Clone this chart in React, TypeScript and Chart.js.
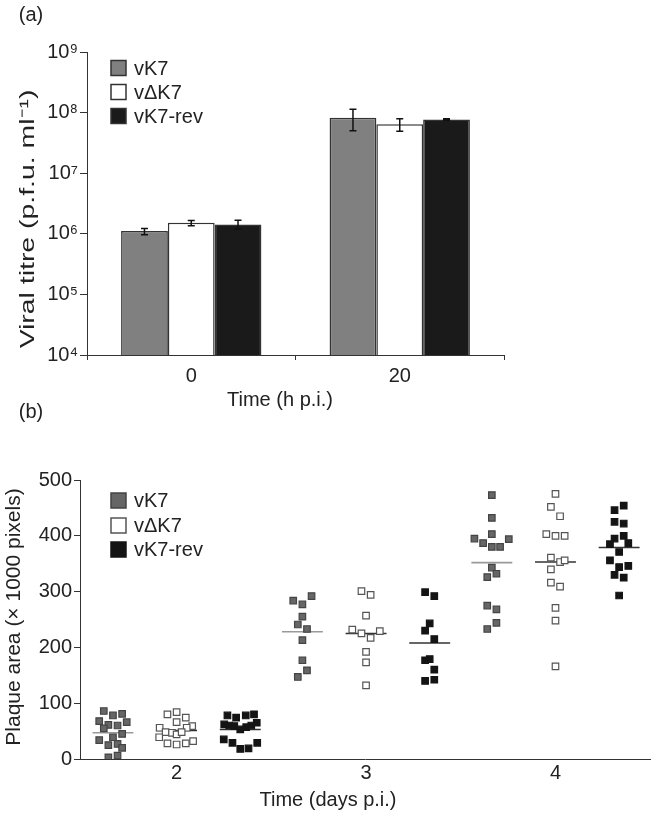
import React, { useEffect, useRef } from 'react';
import { Chart, registerables } from 'chart.js';
Chart.register(...registerables);

const FONT = '"Liberation Sans", Arial, Helvetica, sans-serif';

// ---------- Panel (a) data ----------
const timeCategories = ['0', '20'];
const seriesNames = ['vK7', 'vΔK7', 'vK7-rev'];
const titreVK7 = [1.11e6, 8.2e7];
const titreDK7 = [1.52e6, 6.4e7];
const titreRev = [1.43e6, 7.7e7];
const errLowVK7 = [0.96e6, 5.0e7];
const errHighVK7 = [1.22e6, 1.14e8];
const errLowDK7 = [1.36e6, 4.9e7];
const errHighDK7 = [1.65e6, 7.9e7];
const errLowRev = [1.2e6, 7.5e7];
const errHighRev = [1.67e6, 7.9e7];
const titreTicks = [1e4, 1e5, 1e6, 1e7, 1e8, 1e9];
const titreTickLabels = ['10⁴', '10⁵', '10⁶', '10⁷', '10⁸', '10⁹'];

// ---------- Panel (b) data ----------
const days = [2, 3, 4];
const dayLabels = ['2', '3', '4'];
const areaTicks = [0, 100, 200, 300, 400, 500];
// each point: [spread slot within its column, plaque area (x1000 pixels)]
const vK7Day2 = [[-2, 86], [0, 78], [2, 81], [-3, 68], [-1, 61], [1, 60], [3, 66], [-2, 55], [0, 39], [2, 45], [-3, 34], [-1, 25], [1, 27], [2, 20], [-1, 3], [1, 6]];
const vK7Day3 = [[2, 292], [-2, 284], [0, 277], [0, 255], [-1, 241], [1, 233], [0, 213], [0, 177], [1, 159], [-1, 147]];
const vK7Day4 = [[0, 473], [0, 432], [0, 403], [-3.8, 395], [-1.9, 387], [0, 380], [1.8, 380], [3.7, 394], [0, 343], [1, 332], [-1, 326], [-1, 275], [1, 268], [1, 244], [-1, 233]];
const dK7Day2 = [[-2, 80], [0, 84], [2, 74], [0, 66], [-3.7, 56], [3.4, 59], [2.2, 56], [-2.4, 48], [-1, 47], [0, 44], [1.1, 48], [-3.8, 39], [-2, 28], [0, 26], [2, 28], [3.6, 32]];
const dK7Day3 = [[-1, 301], [1, 294], [0, 257], [-3, 232], [-1, 225], [1, 217], [3, 229], [0, 192], [0, 173], [0, 132]];
const dK7Day4 = [[0, 475], [-1, 452], [1, 435], [-2, 403], [0, 400], [2, 400], [-1, 361], [1, 353], [2, 356], [-1, 340], [-1, 316], [1, 309], [0, 271], [0, 248], [0, 166]];
const revDay2 = [[-2.8, 78], [-0.9, 74], [1.2, 78], [3, 80], [-3.5, 62], [-2.4, 60], [-1.3, 59], [0, 53], [1.3, 57], [2.4, 60], [3.6, 65], [-3.6, 35], [-1.7, 29], [0, 18], [1.8, 19], [3.7, 29]];
const revDay3 = [[-1, 299], [1, 292], [0, 243], [-1, 230], [1, 215], [-1, 177], [0, 179], [1, 160], [1, 142], [-1, 140]];
const revDay4 = [[1, 454], [-1, 446], [-1, 425], [1, 422], [-1, 395], [1, 400], [-2, 385], [2, 387], [0, 371], [-2, 356], [0, 344], [2, 346], [-1, 330], [1, 325], [0, 293]];
const meanVK7 = [47, 228, 352];
const meanDK7 = [51, 225, 353];
const meanRev = [53, 208, 379];

// ---------- styling ----------
const GROUP_OFFSET = [-0.336, 0, 0.336];
const SLOT = 0.0242;
const MEAN_HALF = 0.108;

const barFill = ['#808080', '#ffffff', '#1a1a1a'];
const dotFill = ['#666666', '#ffffff', '#141414'];
const dotBorder = ['#444444', '#555555', '#141414'];
const meanColor = ['#9a9a9a', '#333333', '#333333'];

type TextItem = { text: string; x: number; y: number; rot?: boolean; stretch?: number; size?: number };

function textPlugin(id: string, items: TextItem[]) {
  return {
    id,
    afterDraw(chart: any) {
      const ctx = chart.ctx as CanvasRenderingContext2D;
      ctx.save();
      ctx.fillStyle = '#222';
      items.forEach((it) => {
        ctx.save();
        ctx.font = `${it.size || 20}px ${FONT}`;
        ctx.textBaseline = 'middle';
        ctx.textAlign = 'center';
        ctx.translate(it.x, it.y);
        if (it.rot) ctx.rotate(-Math.PI / 2);
        if (it.stretch) ctx.scale(it.stretch, 1);
        ctx.fillText(it.text, 0, 0);
        ctx.restore();
      });
      ctx.restore();
    },
  };
}

function legendPlugin(id: string, x: number, rows: number[], fills: string[], borders: string[]) {
  return {
    id,
    afterDraw(chart: any) {
      const ctx = chart.ctx as CanvasRenderingContext2D;
      ctx.save();
      seriesNames.forEach((name, i) => {
        const cy = rows[i];
        ctx.fillStyle = fills[i];
        ctx.fillRect(x, cy - 7.5, 15, 15);
        ctx.strokeStyle = borders[i];
        ctx.lineWidth = 1.5;
        ctx.strokeRect(x, cy - 7.5, 15, 15);
        ctx.fillStyle = '#222';
        ctx.font = `20px ${FONT}`;
        ctx.textBaseline = 'middle';
        ctx.textAlign = 'left';
        ctx.fillText(name, x + 23, cy + 1);
      });
      ctx.restore();
    },
  };
}

const errorBarPlugin = {
  id: 'errorBars',
  afterDatasetsDraw(chart: any) {
    const ctx = chart.ctx as CanvasRenderingContext2D;
    const yScale = chart.scales.y;
    chart.data.datasets.forEach((ds: any, i: number) => {
      const meta = chart.getDatasetMeta(i);
      meta.data.forEach((bar: any, j: number) => {
        const yl = yScale.getPixelForValue(ds.errLow[j]);
        const yh = yScale.getPixelForValue(ds.errHigh[j]);
        const x = bar.x;
        ctx.save();
        ctx.strokeStyle = '#111';
        ctx.lineWidth = 1.5;
        ctx.beginPath();
        ctx.moveTo(x, yl);
        ctx.lineTo(x, yh);
        ctx.moveTo(x - 3.5, yl);
        ctx.lineTo(x + 3.5, yl);
        ctx.moveTo(x - 3.5, yh);
        ctx.lineTo(x + 3.5, yh);
        ctx.stroke();
        ctx.restore();
      });
    });
  },
};

export default function App() {
  const refA = useRef<HTMLCanvasElement>(null);
  const refB = useRef<HTMLCanvasElement>(null);

  useEffect(() => {
    const axisColor = '#333';
    const tickFont = { family: FONT, size: 20 };

    // ----- Panel (a) -----
    const values = [titreVK7, titreDK7, titreRev];
    const lows = [errLowVK7, errLowDK7, errLowRev];
    const highs = [errHighVK7, errHighDK7, errHighRev];
    const chartA = new Chart(refA.current as HTMLCanvasElement, {
      type: 'bar',
      data: {
        labels: timeCategories,
        datasets: seriesNames.map((name, i) => ({
          label: name,
          data: values[i],
          errLow: lows[i],
          errHigh: highs[i],
          backgroundColor: barFill[i],
          borderColor: '#333',
          borderWidth: 1.5,
          categoryPercentage: 0.673,
          barPercentage: 1,
        })) as any,
      },
      options: {
        responsive: false,
        animation: false,
        devicePixelRatio: 1,
        layout: { padding: { left: 0, top: 52, right: 152, bottom: 0 } },
        plugins: { legend: { display: false }, tooltip: { enabled: false }, title: { display: false } },
        scales: {
          x: {
            type: 'category',
            offset: true,
            grid: { display: true, drawOnChartArea: false, drawTicks: true, tickLength: 5, offset: true, color: axisColor },
            border: { display: true, color: axisColor, width: 1 },
            ticks: { font: tickFont, color: '#222', padding: 4, maxRotation: 0 },
            afterFit: (s: any) => { s.height = 57; },
          },
          y: {
            type: 'logarithmic',
            min: 1e4,
            max: 1e9,
            afterBuildTicks: (s: any) => { s.ticks = titreTicks.map((v) => ({ value: v })); },
            ticks: {
              font: tickFont,
              color: '#222',
              padding: 2,
              callback: (v: any) => titreTickLabels[titreTicks.indexOf(Number(v))] ?? '',
            },
            grid: { display: true, drawOnChartArea: false, drawTicks: true, tickLength: 7, color: axisColor },
            border: { display: true, color: axisColor, width: 1 },
            afterFit: (s: any) => { s.width = 87; },
          },
        },
      } as any,
      plugins: [
        errorBarPlugin,
        legendPlugin('legendA', 111, [68, 92, 116], barFill, ['#333', '#333', '#333']),
        textPlugin('textA', [
          { text: '(a)', x: 31, y: 15 },
          { text: 'Viral titre (p.f.u. ml⁻¹)', x: 28, y: 219, rot: true, stretch: 1.42 },
          { text: 'Time (h p.i.)', x: 280, y: 400 },
        ]),
      ],
    });

    // ----- Panel (b) -----
    const groups = [
      [vK7Day2, vK7Day3, vK7Day4],
      [dK7Day2, dK7Day3, dK7Day4],
      [revDay2, revDay3, revDay4],
    ];
    const means = [meanVK7, meanDK7, meanRev];
    const pointSets: any[] = seriesNames.map((name, g) => ({
      label: name,
      data: days.flatMap((d, di) => groups[g][di].map(([s, v]) => ({ x: d + GROUP_OFFSET[g] + s * SLOT, y: v }))),
      pointStyle: 'rect',
      pointRadius: 4.6,
      pointBackgroundColor: dotFill[g],
      pointBorderColor: dotBorder[g],
      pointBorderWidth: 1.2,
      showLine: false,
    }));
    const meanSets: any[] = [];
    seriesNames.forEach((name, g) => {
      days.forEach((d, di) => {
        const c = d + GROUP_OFFSET[g];
        meanSets.push({
          label: `${name} mean ${d}`,
          data: [{ x: c - MEAN_HALF, y: means[g][di] }, { x: c + MEAN_HALF, y: means[g][di] }],
          showLine: true,
          pointRadius: 0,
          borderColor: meanColor[g],
          borderWidth: 1.6,
        });
      });
    });

    const chartB = new Chart(refB.current as HTMLCanvasElement, {
      type: 'scatter',
      data: { datasets: [...pointSets, ...meanSets] },
      options: {
        responsive: false,
        animation: false,
        devicePixelRatio: 1,
        layout: { padding: { left: 0, top: 80, right: 3, bottom: 0 } },
        plugins: { legend: { display: false }, tooltip: { enabled: false }, title: { display: false } },
        scales: {
          x: {
            type: 'linear',
            min: 1.49,
            max: 4.5,
            afterBuildTicks: (s: any) => { s.ticks = days.map((v) => ({ value: v })); },
            ticks: {
              font: tickFont,
              color: '#222',
              padding: 2,
              maxRotation: 0,
              callback: (v: any) => dayLabels[days.indexOf(Number(v))] ?? '',
            },
            grid: { display: false, drawTicks: false },
            border: { display: true, color: axisColor, width: 1 },
            afterFit: (s: any) => { s.height = 57; },
          },
          y: {
            type: 'linear',
            min: 0,
            max: 500,
            afterBuildTicks: (s: any) => { s.ticks = areaTicks.map((v) => ({ value: v })); },
            ticks: { font: tickFont, color: '#222', padding: 2 },
            grid: { display: true, drawOnChartArea: false, drawTicks: true, tickLength: 6, color: axisColor },
            border: { display: true, color: axisColor, width: 1 },
            afterFit: (s: any) => { s.width = 80; },
          },
        },
      } as any,
      plugins: [
        legendPlugin('legendB', 111, [100.5, 125.5, 149.5], dotFill, dotBorder),
        textPlugin('textB', [
          { text: '(b)', x: 31, y: 12.5 },
          { text: 'Plaque area (× 1000 pixels)', x: 14, y: 217, rot: true, stretch: 1.05 },
          { text: 'Time (days p.i.)', x: 328, y: 400 },
        ]),
      ],
    });

    return () => {
      chartA.destroy();
      chartB.destroy();
    };
  }, []);

  return (
    <div style={{ position: 'absolute', left: 0, top: 0, width: 656, height: 816, background: '#fff', overflow: 'hidden' }}>
      <canvas ref={refA} width={656} height={412} style={{ position: 'absolute', left: 0, top: 0, width: 656, height: 412 }} />
      <canvas ref={refB} width={656} height={416} style={{ position: 'absolute', left: 0, top: 400, width: 656, height: 416 }} />
    </div>
  );
}
